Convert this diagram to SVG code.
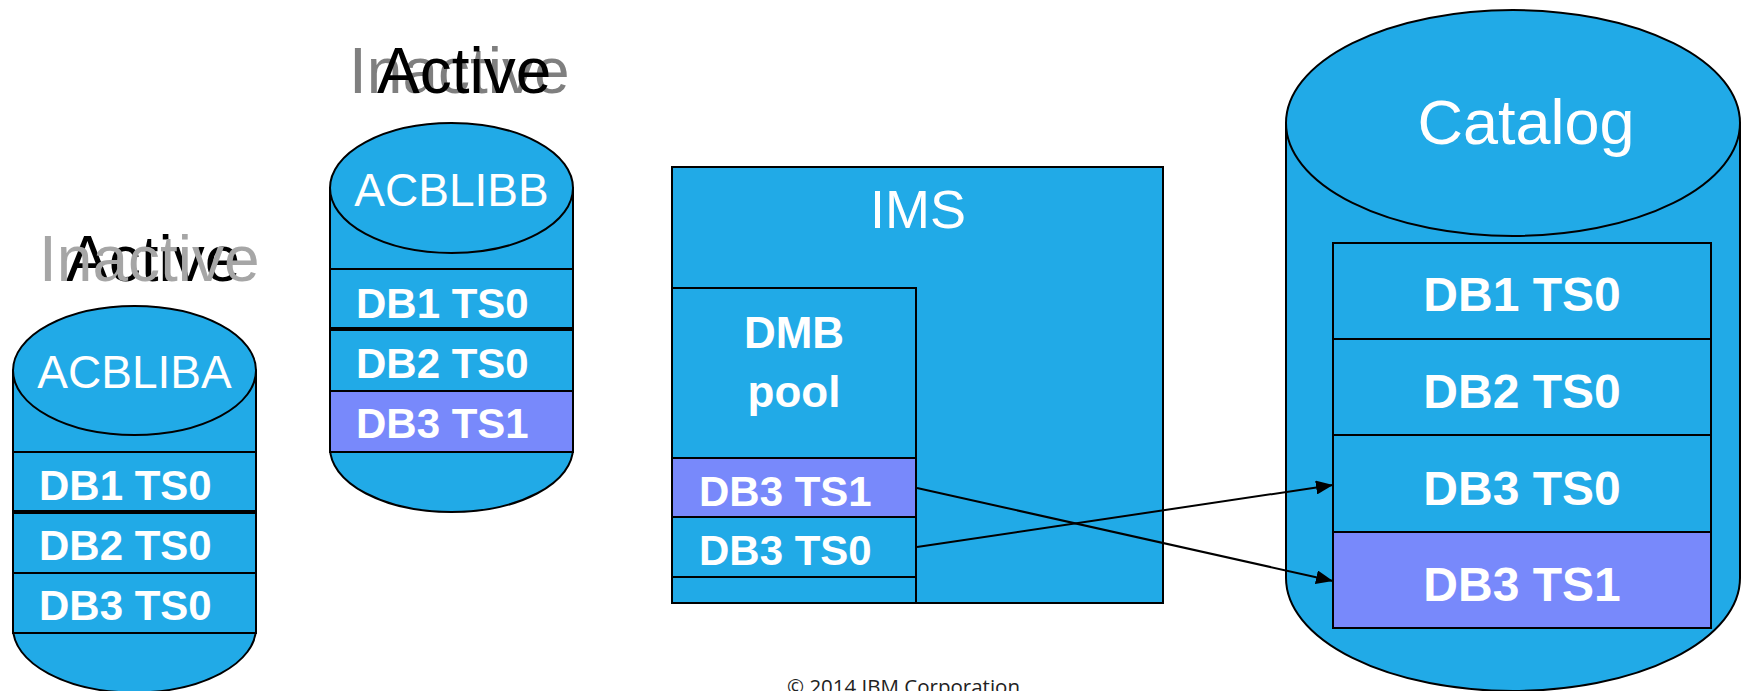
<svg xmlns="http://www.w3.org/2000/svg" width="1741" height="691" viewBox="0 0 1741 691">
<style>
.blue{fill:#21AAE7;stroke:#000;stroke-width:2}
.purple{fill:#7889FB;stroke:#000;stroke-width:2}
.lbl{font-family:"Liberation Sans",Arial,sans-serif;fill:#fff}
.b{font-weight:bold}
.state{font-family:"Liberation Sans",Arial,sans-serif;font-size:64px}
.conn{stroke:#000;stroke-width:2;fill:none}
</style>
<defs>
<marker id="arrow" markerUnits="userSpaceOnUse" markerWidth="17" markerHeight="14" refX="17" refY="7" orient="auto">
<path d="M0,0 L17,7 L0,14 Z" fill="#000"/>
</marker>
</defs>
<rect width="1741" height="691" fill="#fff"/>

<g id="label-acbliba-state">
<text class="state" x="66" y="281" fill="#000">Active</text>
<text class="state" x="39" y="281" fill="#A6A6A6">Inactive</text>
</g>

<g id="label-acblibb-state">
<text class="state" x="349" y="93" fill="#7F7F7F">Inactive</text>
<text class="state" x="377" y="93" fill="#000">Active</text>
</g>

<g id="acbliba">
<path class="blue" d="M13,370.5 L13,628 A121.5,64.5 0 0 0 256,628 L256,370.5 Z"/>
<ellipse class="blue" cx="134.5" cy="370.5" rx="121.5" ry="64.5"/>
<rect class="blue" x="13" y="452" width="243" height="59"/>
<rect class="blue" x="13" y="513" width="243" height="60"/>
<rect class="blue" x="13" y="573" width="243" height="60"/>
<text class="lbl" x="134.5" y="388" font-size="46" text-anchor="middle">ACBLIBA</text>
<text class="lbl b" x="39" y="500" font-size="42">DB1 TS0</text>
<text class="lbl b" x="39" y="560" font-size="42">DB2 TS0</text>
<text class="lbl b" x="39" y="620" font-size="42">DB3 TS0</text>
</g>

<g id="acblibb">
<path class="blue" d="M330,188 L330,448 A121.5,64 0 0 0 573,448 L573,188 Z"/>
<ellipse class="blue" cx="451.5" cy="188" rx="121.5" ry="65"/>
<rect class="blue" x="330" y="269" width="243" height="59"/>
<rect class="blue" x="330" y="330" width="243" height="61"/>
<rect class="purple" x="330" y="391" width="243" height="61"/>
<text class="lbl" x="451.5" y="206" font-size="46" text-anchor="middle">ACBLIBB</text>
<text class="lbl b" x="356" y="318" font-size="42">DB1 TS0</text>
<text class="lbl b" x="356" y="378" font-size="42">DB2 TS0</text>
<text class="lbl b" x="356" y="438" font-size="42">DB3 TS1</text>
</g>

<g id="ims">
<rect class="blue" x="672" y="167" width="491" height="436"/>
<text class="lbl" x="918" y="228" font-size="54" text-anchor="middle">IMS</text>
</g>

<g id="dmb-pool">
<rect class="blue" x="672" y="288" width="244" height="315"/>
<text class="lbl b" x="794" y="348" font-size="44" text-anchor="middle">DMB</text>
<text class="lbl b" x="794" y="407" font-size="44" text-anchor="middle">pool</text>
<rect class="purple" x="672" y="458" width="244" height="59"/>
<rect class="blue" x="672" y="517" width="244" height="60"/>
<rect class="blue" x="672" y="577" width="244" height="26"/>
<text class="lbl b" x="699" y="506" font-size="42">DB3 TS1</text>
<text class="lbl b" x="699" y="565" font-size="42">DB3 TS0</text>
</g>

<g id="catalog">
<path class="blue" d="M1286,123 L1286,578 A227,113 0 0 0 1740,578 L1740,123 Z"/>
<ellipse class="blue" cx="1513" cy="123" rx="227" ry="113"/>
<text class="lbl" x="1526" y="144" font-size="63" text-anchor="middle">Catalog</text>
<rect class="blue" x="1333" y="243" width="378" height="96"/>
<rect class="blue" x="1333" y="339" width="378" height="96"/>
<rect class="blue" x="1333" y="435" width="378" height="97"/>
<rect class="purple" x="1333" y="532" width="378" height="96"/>
<text class="lbl b" x="1522" y="311" font-size="48" text-anchor="middle">DB1 TS0</text>
<text class="lbl b" x="1522" y="408" font-size="48" text-anchor="middle">DB2 TS0</text>
<text class="lbl b" x="1522" y="505" font-size="48" text-anchor="middle">DB3 TS0</text>
<text class="lbl b" x="1522" y="601" font-size="48" text-anchor="middle">DB3 TS1</text>
</g>

<g id="connectors">
<line class="conn" x1="917" y1="488" x2="1333" y2="581" marker-end="url(#arrow)"/>
<line class="conn" x1="917" y1="547" x2="1333" y2="485" marker-end="url(#arrow)"/>
</g>

<g id="footer">
<text x="787" y="694" font-family="'Open Sans','Liberation Sans',sans-serif" font-size="20.5" fill="#222">© 2014 IBM Corporation</text>
</g>
</svg>
